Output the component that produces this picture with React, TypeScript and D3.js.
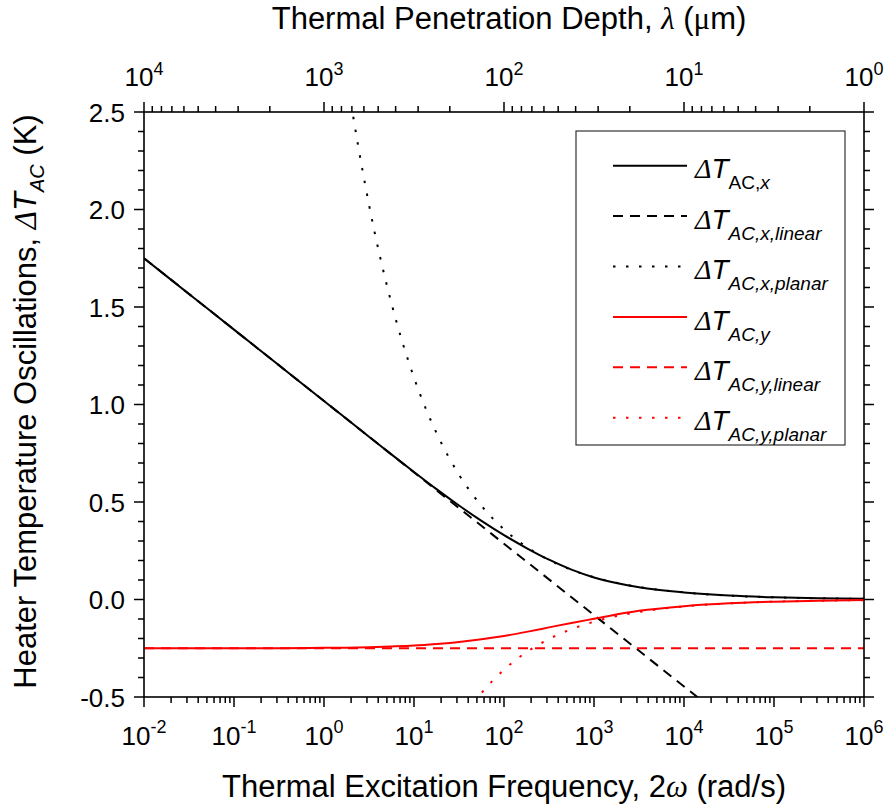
import React from 'react';
import * as d3 from 'd3';

// log10 of thermal excitation frequency 2ω (rad/s)
const logFreq = [-2, -1.5, -1, -0.5, 0, 0.25, 0.5, 0.75, 1, 1.25, 1.5, 1.75, 2, 2.25, 2.5, 2.75, 3, 3.5, 4, 4.5, 5, 5.5, 6];
// ΔT_AC,x (in-phase), K
const dTx = [1.75, 1.567, 1.384, 1.201, 1.018, 0.927, 0.835, 0.744, 0.654, 0.566, 0.482, 0.403, 0.33, 0.264, 0.204, 0.153, 0.113, 0.063, 0.036, 0.02, 0.011, 0.006, 0.004];
// ΔT_AC,x,planar
const dTxPlanar = [null, null, null, null, 3.6, 2.7, 2.025, 1.518, 1.138, 0.854, 0.64, 0.48, 0.36, 0.27, 0.2025, 0.152, 0.114, 0.064, 0.036, 0.02, 0.011, 0.0064, 0.0036];
// ΔT_AC,y (out-of-phase)
const dTy = [-0.25, -0.25, -0.25, -0.25, -0.248, -0.247, -0.245, -0.241, -0.236, -0.228, -0.218, -0.204, -0.187, -0.166, -0.143, -0.12, -0.099, -0.058, -0.034, -0.019, -0.011, -0.006, -0.003];
// ΔT_AC,y,planar
const dTyPlanar = [null, null, null, null, null, null, null, null, null, null, -0.64, -0.48, -0.36, -0.27, -0.2025, -0.152, -0.114, -0.064, -0.036, -0.02, -0.011, -0.0064, -0.0036];
// linear (line-source) approximations
const linearLogFreq = [-2, 6];
const dTxLinear = [1.75, -1.178];
const dTyLinear = [-0.25, -0.25];

const freqTickExps = [-2, -1, 0, 1, 2, 3, 4, 5, 6];
const depthTickExps = [4, 3, 2, 1, 0];
const yTickValues = [-0.5, 0, 0.5, 1, 1.5, 2, 2.5];

const SANS = '"Liberation Sans", Arial, sans-serif';
const SERIF = '"Liberation Serif", "Times New Roman", serif';

const L = 144, R = 864, T = 112, B = 697;

export default function App() {
  const x = d3.scaleLog().domain([1e-2, 1e6]).range([L, R]);
  const xTop = d3.scaleLog().domain([1e4, 1]).range([L, R]);
  const y = d3.scaleLinear().domain([-0.5, 2.5]).range([B, T]);

  const line = d3
    .line<[number, number]>()
    .x((d) => x(Math.pow(10, d[0])))
    .y((d) => y(d[1]))
    .curve(d3.curveMonotoneX);

  const pairs = (xs: number[], ys: (number | null)[]) =>
    xs.map((v, i) => [v, ys[i]] as [number, number | null]).filter((p) => p[1] !== null) as [number, number][];

  const series = [
    { data: pairs(logFreq, dTx), color: '#000', dash: undefined },
    { data: pairs(linearLogFreq, dTxLinear), color: '#000', dash: '10,7' },
    { data: pairs(logFreq, dTxPlanar), color: '#000', dash: '2.5,10.5' },
    { data: pairs(logFreq, dTy), color: '#ff0000', dash: undefined },
    { data: pairs(linearLogFreq, dTyLinear), color: '#ff0000', dash: '10,7' },
    { data: pairs(logFreq, dTyPlanar), color: '#ff0000', dash: '2.5,10.5' },
  ];

  const minorBottom: number[] = [];
  for (let e = -2; e < 6; e++) for (let m = 2; m <= 9; m++) minorBottom.push(m * Math.pow(10, e));
  const minorTop: number[] = [];
  for (let e = 0; e < 4; e++) for (let m = 2; m <= 9; m++) minorTop.push(m * Math.pow(10, e));
  const yMinor = d3.range(-5, 26).map((v) => v / 10).filter((v) => Math.abs(v * 2 - Math.round(v * 2)) > 1e-6);

  const legendSubs: React.ReactNode[] = [
    <><tspan>AC,</tspan><tspan fontStyle="italic">x</tspan></>,
    <tspan fontStyle="italic">AC,x,linear</tspan>,
    <tspan fontStyle="italic">AC,x,planar</tspan>,
    <tspan fontStyle="italic">AC,y</tspan>,
    <tspan fontStyle="italic">AC,y,linear</tspan>,
    <tspan fontStyle="italic">AC,y,planar</tspan>,
  ];

  const MAJ = 10, MIN = 6;

  return (
    <svg width={887} height={809} style={{ position: 'absolute', left: 0, top: 0, background: '#fff' }} fontFamily={SANS}>
      <rect x={0} y={0} width={887} height={809} fill="#fff" />
      <defs>
        <clipPath id="plotClip">
          <rect x={L} y={T} width={R - L} height={B - T} />
        </clipPath>
      </defs>

      {/* curves */}
      <g clipPath="url(#plotClip)" fill="none">
        {series.map((s, i) => (
          <path key={i} d={line(s.data) || ''} stroke={s.color} strokeWidth={2} strokeDasharray={s.dash} />
        ))}
      </g>

      {/* frame */}
      <rect x={L} y={T} width={R - L} height={B - T} fill="none" stroke="#000" strokeWidth={1.6} />

      {/* ticks */}
      <g stroke="#000" strokeWidth={1.5}>
        {freqTickExps.map((e) => (
          <line key={'bM' + e} x1={x(Math.pow(10, e))} x2={x(Math.pow(10, e))} y1={B} y2={B + MAJ} />
        ))}
        {minorBottom.map((v, i) => (
          <line key={'bm' + i} x1={x(v)} x2={x(v)} y1={B} y2={B + MIN} />
        ))}
        {depthTickExps.map((e) => (
          <line key={'tMj' + e} x1={xTop(Math.pow(10, e))} x2={xTop(Math.pow(10, e))} y1={T} y2={T - MAJ} />
        ))}
        {minorTop.map((v, i) => (
          <line key={'tm' + i} x1={xTop(v)} x2={xTop(v)} y1={T} y2={T - MIN} />
        ))}
        {yTickValues.map((v) => (
          <React.Fragment key={'yM' + v}>
            <line x1={L - MAJ} x2={L} y1={y(v)} y2={y(v)} />
            <line x1={R} x2={R + MAJ} y1={y(v)} y2={y(v)} />
          </React.Fragment>
        ))}
        {yMinor.map((v, i) => (
          <React.Fragment key={'ym' + i}>
            <line x1={L - MIN} x2={L} y1={y(v)} y2={y(v)} />
            <line x1={R} x2={R + MIN} y1={y(v)} y2={y(v)} />
          </React.Fragment>
        ))}
      </g>

      {/* x tick labels */}
      <g fontSize={26} textAnchor="middle" fill="#000">
        {freqTickExps.map((e) => (
          <text key={'bl' + e} x={x(Math.pow(10, e))} y={745}>
            10<tspan dy={-12} fontSize={18}>{e < 0 ? '-' + Math.abs(e) : String(e)}</tspan>
          </text>
        ))}
        {depthTickExps.map((e) => (
          <text key={'tl' + e} x={xTop(Math.pow(10, e))} y={86}>
            10<tspan dy={-11} fontSize={18}>{String(e)}</tspan>
          </text>
        ))}
      </g>

      {/* y tick labels */}
      <g fontSize={26} textAnchor="end" fill="#000">
        {yTickValues.map((v) => (
          <text key={'yl' + v} x={125} y={y(v) + 9.5}>
            {v.toFixed(1)}
          </text>
        ))}
      </g>

      {/* titles */}
      <text x={509} y={28.5} fontSize={31} textAnchor="middle">
        Thermal Penetration Depth, <tspan fontFamily={SERIF} fontStyle="italic">λ</tspan> (<tspan fontFamily={SERIF}>μ</tspan>m)
      </text>
      <text x={504} y={797} fontSize={31} textAnchor="middle">
        Thermal Excitation Frequency, 2<tspan fontFamily={SERIF} fontStyle="italic">ω</tspan> (rad/s)
      </text>
      <text transform={`translate(36,${(T + B) / 2 - 3}) rotate(-90)`} fontSize={31} textAnchor="middle">
        Heater Temperature Oscillations, <tspan fontFamily={SERIF} fontStyle="italic">Δ</tspan>
        <tspan fontStyle="italic">T</tspan>
        <tspan fontStyle="italic" fontSize={20} dy={8}>AC</tspan>
        <tspan dy={-8}> (K)</tspan>
      </text>

      {/* legend */}
      <rect x={576} y={131} width={269} height={314} fill="#fff" stroke="#333" strokeWidth={1.2} />
      {series.map((s, i) => {
        const ly = 165.7 + i * 50.4;
        return (
          <g key={'lg' + i}>
            <line x1={613} x2={687} y1={ly} y2={ly} stroke={s.color} strokeWidth={2} strokeDasharray={s.dash} />
            <text x={695} y={ly + 12.6} fontSize={28}>
              <tspan fontFamily={SERIF} fontStyle="italic">Δ</tspan>
              <tspan fontStyle="italic">T</tspan>
              <tspan fontSize={19} dy={11}>{legendSubs[i]}</tspan>
            </text>
          </g>
        );
      })}
    </svg>
  );
}
